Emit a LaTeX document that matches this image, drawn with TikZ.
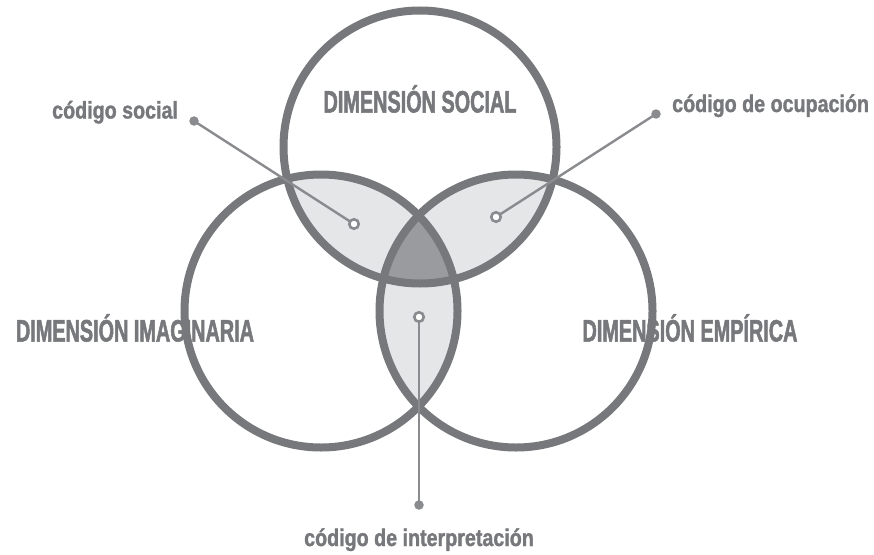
\documentclass[tikz,border=0pt]{standalone}
\usepackage{fontspec}
\newfontfamily\bigfont{Liberation Sans}[FakeStretch=0.64,FakeBold=1.6,UprightFont=*-Bold,BoldFont=*-Bold]
\newfontfamily\smallfont{Liberation Sans}[FakeStretch=0.82,FakeBold=1.3,UprightFont=*-Bold,BoldFont=*-Bold]
\definecolor{ringgray}{HTML}{77787B}
\definecolor{linegray}{HTML}{8A8B8E}
\definecolor{lensfill}{HTML}{E5E6E8}
\definecolor{corefill}{HTML}{9A9B9E}
\definecolor{textgray}{HTML}{77787B}
\begin{document}
\begin{tikzpicture}[x=1pt,y=-1pt,
  ring/.style={draw=ringgray,line width=8pt},
  conn/.style={draw=linegray,line width=2.4pt},
  enddot/.style={circle,fill=linegray,inner sep=0pt,minimum size=9.5pt},
  opendot/.style={circle,draw=linegray,line width=2.6pt,fill=white,inner sep=0pt,minimum size=9.5pt},
  biglabel/.style={font=\bigfont\fontsize{31}{31}\selectfont,text=textgray,inner sep=0pt},
  smalllabel/.style={font=\smallfont\fontsize{24}{24}\selectfont,text=textgray,inner sep=0pt}]
\useasboundingbox (0,0) rectangle (874,554);
\def\rr{136.5}
\coordinate (T) at (420,147);
\coordinate (L) at (321,311);
\coordinate (R) at (516,311);
% pairwise lenses
\begin{scope}
  \clip (T) circle (\rr);
  \fill[lensfill] (L) circle (\rr);
  \fill[lensfill] (R) circle (\rr);
\end{scope}
\begin{scope}
  \clip (L) circle (\rr);
  \fill[lensfill] (R) circle (\rr);
\end{scope}
% core
\begin{scope}
  \clip (T) circle (\rr);
  \clip (L) circle (\rr);
  \fill[corefill] (R) circle (\rr);
\end{scope}
% rings
\draw[ring] (T) circle (\rr);
\draw[ring] (L) circle (\rr);
\draw[ring] (R) circle (\rr);
% labels
\node[biglabel,anchor=base] (social) at (420,112.5) {DIMENSIÓN SOCIAL};
\node[biglabel,anchor=base] (imag) at (135,341.5) {DIMENSIÓN IMAGINARIA};
\node[biglabel,anchor=base] (emp) at (690,341.5) {DIMENSIÓN EMPÍRICA};
\node[smalllabel,anchor=base west] (csocial) at (52,118.5) {código social};
\node[smalllabel,anchor=base west] (cocup) at (672,112) {código de ocupación};
\node[smalllabel,anchor=base] (cinter) at (419,546) {código de interpretación};
% connectors
\node[enddot] (d1) at (194,121) {};
\node[enddot] (d2) at (656,114) {};
\node[enddot] (d3) at (419,505) {};
\coordinate (o1c) at (354,224);
\coordinate (o2c) at (496,217);
\coordinate (o3c) at (419,317);
\draw[conn] (d1.center) -- (o1c);
\draw[conn] (d2.center) -- (o2c);
\draw[conn] (d3.center) -- (o3c);
\node[opendot] (o1) at (o1c) {};
\node[opendot] (o2) at (o2c) {};
\node[opendot] (o3) at (o3c) {};
\end{tikzpicture}
\end{document}
